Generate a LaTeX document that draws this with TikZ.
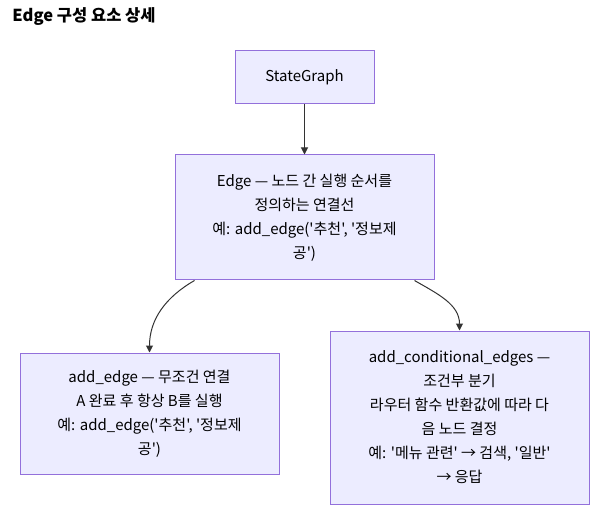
\documentclass[tikz,border=0pt]{standalone}
\usepackage{fontspec}
\setmainfont{Noto Sans CJK KR}[Ligatures=TeXOff]
\usetikzlibrary{arrows.meta}
\definecolor{boxfill}{HTML}{ECECFF}
\definecolor{boxline}{HTML}{9370DB}
\definecolor{linkgray}{HTML}{333333}
\begin{document}
\begin{tikzpicture}
            [
                x = 1pt, y = -1pt,
                every node/.style = {shape=rectangle, draw=boxline, line width=1pt,
                fill=boxfill, align=center, inner sep=0pt,
                font=\fontsize{15}{24}\selectfont},
                link/.style = {draw=linkgray, line width=1pt,
                -{Triangle[length=7pt,width=7pt]}}
            ]
            \useasboundingbox (0,0) rectangle (614,516);
            \node [draw=none, fill=none, anchor=west, font=\fontsize{16.5}{18}\selectfont\bfseries]
                (title) at (12,17) {Edge 구성 요소 상세};
            \node [minimum width=139pt, minimum height=53pt] (sg) at (304.5,77.5) {StateGraph};
            \node [minimum width=259pt, minimum height=125pt] (edge) at (304.5,217.5)
                {Edge — 노드 간 실행 순서를 \\ 정의하는 연결선 \\ 예: add\_edge('추천', '정보제 \\ 공')};
            \node [minimum width=259pt, minimum height=121pt] (plain) at (149.5,413.5)
                {add\_edge — 무조건 연결 \\ A 완료 후 항상 B를 실행 \\ 예: add\_edge('추천', '정보제 \\ 공')};
            \node [minimum width=259pt, minimum height=173pt] (cond) at (459.5,417.5)
                {add\_conditional\_edges — \\ 조건부 분기 \\ 라우터 함수 반환값에 따라 다 \\ 음 노드 결정 \\ 예: '메뉴 관련' → 검색, '일반' \\ → 응답};
            \draw [link] (sg) -- (edge);
            \draw [link] (edge.south west) ++(20,0) to [out=-150, in=90] (plain.north);
            \draw [link] (edge.south east) ++(-20,0) to [out=-30, in=90] (cond.north);
        \end{tikzpicture}
\end{document}
